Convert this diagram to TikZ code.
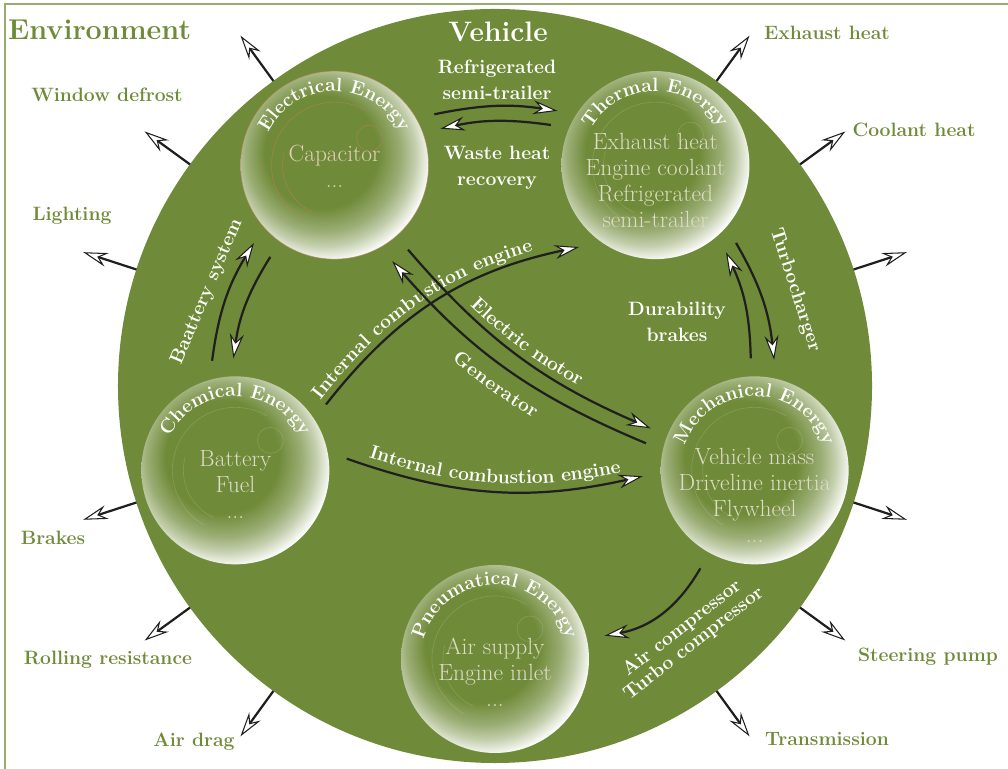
\documentclass[tikz,border=0pt]{standalone}
\usepackage{fontspec}
\usetikzlibrary{arrows.meta,calc,decorations.text}

\definecolor{vgreen}{RGB}{111,138,56}
\definecolor{framegreen}{RGB}{152,172,112}
\definecolor{innertext}{RGB}{222,220,200}
\definecolor{elecinner}{RGB}{226,208,186}
\definecolor{elecline}{RGB}{186,128,88}

% glassy bubble: green core, light rim, white crescent at lower right
\pgfdeclareradialshading{bubble}{\pgfpoint{-5bp}{5bp}}{%
  color(0bp)=(vgreen); color(15bp)=(vgreen); color(20.5bp)=(vgreen!70!white);
  color(24bp)=(vgreen!42!white); color(28bp)=(white); color(50bp)=(white)}

\newcommand\titlefont{\bfseries\fontsize{16.5}{18}\selectfont}
\newcommand\labelfont{\bfseries\fontsize{16.5}{22}\selectfont}
\newcommand\innerfont{\fontsize{20}{22}\selectfont}

\tikzset{
  flow/.style={line width=1.9pt, color=black!88,
    -{Stealth[length=21pt,width=12pt,inset=7pt,fill=white,line width=0.9pt]}},
  bubblenode/.style={circle, minimum size=5.64cm, inner sep=0pt, outer sep=0.54cm},
  glabel/.style={text=vgreen, font=\labelfont, inner sep=0pt},
  wlabel/.style={text=white, font=\labelfont, align=center, inner sep=0pt},
  innerlabel/.style={text=innertext, font=\innerfont, align=center, inner sep=0pt},
  gloss/.style={white, opacity=0.14, line width=0.6pt},
  elecgloss/.style={elecline, opacity=0.7, line width=0.5pt},
  flowtext/.style={postaction={decorate, decoration={text along path,
    text color=white, #1}}},
}

\begin{document}
\begin{tikzpicture}[x=0.03cm, y=0.03cm]
\useasboundingbox (0,0) rectangle (1008,769);

% environment frame
\draw[framegreen, line width=1.4pt] (5,-5) -- (5,765) -- (1015,765);
\node[glabel, font=\bfseries\fontsize{24.5}{28}\selectfont, anchor=base west] (env) at (8,729) {Environment};

% vehicle disc
\node[circle, fill=vgreen, minimum size=22.62cm, inner sep=0pt, outer sep=0pt] (veh) at (495,383) {};
\node[text=white, font=\bfseries\fontsize{24}{28}\selectfont, anchor=base, inner sep=0pt] (vehlabel) at (498,727) {Vehicle};

% energy storages on a pentagon
\foreach \nm/\ang in {elec/126, therm/54, chem/198, mech/342, pneu/270} {
  \node[bubblenode] (\nm) at ($(veh.center)+(\ang:273)$) {};
  \shade[shading=bubble] (\nm.center) circle[radius=94];
}
\foreach \nm in {therm, chem, mech, pneu} {
  \draw[gloss] ($(\nm.center)+(35,30)$) circle[radius=13];
  \draw[gloss] ($(\nm.center)+(60:63)$) arc[start angle=60, end angle=240, radius=63];
  \draw[gloss] ($(\nm.center)+(165:52)$) arc[start angle=165, end angle=245, radius=52];
}
\draw[elecgloss] (elec.center) circle[radius=94];
\draw[elecgloss] ($(elec.center)+(35,27)$) circle[radius=13];
\draw[elecgloss] ($(elec.center)+(60:63)$) arc[start angle=60, end angle=240, radius=63];
\draw[elecgloss] ($(elec.center)+(165:52)$) arc[start angle=165, end angle=245, radius=52];

% bubble titles
\path[decorate, decoration={text along path, text align=center, text color=white,
  text={|\titlefont|Electrical Energy}}] ($(elec.center)+(178:74)$) arc[start angle=178, end angle=2, radius=74];
\path[decorate, decoration={text along path, text align=center, text color=white,
  text={|\titlefont|Thermal Energy}}] ($(therm.center)+(178:74)$) arc[start angle=178, end angle=2, radius=74];
\path[decorate, decoration={text along path, text align=center, text color=white,
  text={|\titlefont|Chemical Energy}}] ($(chem.center)+(178:74)$) arc[start angle=178, end angle=2, radius=74];
\path[decorate, decoration={text along path, text align=center, text color=white,
  text={|\titlefont|Mechanical Energy}}] ($(mech.center)+(178:74)$) arc[start angle=178, end angle=2, radius=74];
\path[decorate, decoration={text along path, text align=center, text color=white,
  text={|\titlefont|Pneumatical Energy}}] ($(pneu.center)+(178:74)$) arc[start angle=178, end angle=2, radius=74];

% bubble contents
\node[innerlabel, text=elecinner] (electxt) at ($(elec.center)+(0,-1)$) {Capacitor\\...};
\node[innerlabel] (thermtxt) at ($(therm.center)+(0,-28)$) {Exhaust heat\\Engine coolant\\Refrigerated\\semi-trailer\\...};
\node[innerlabel] (chemtxt) at ($(chem.center)+(0,-14)$) {Battery\\Fuel\\...};
\node[innerlabel] (mechtxt) at ($(mech.center)+(0,-25)$) {Vehicle mass\\Driveline inertia\\Flywheel\\...};
\node[innerlabel] (pneutxt) at ($(pneu.center)+(0,-13)$) {Air supply\\Engine inlet\\...};

% energy flows inside the vehicle
\draw[flow] (elec.27) to[bend left=10] (therm.151);
\draw[flow] (therm.159) to[bend right=10] (elec.19);
\draw[flow] (chem.102) to[bend left=12] (elec.224);
\draw[flow] (elec.235) to[bend right=12] (chem.91);
\draw[flow] (mech.92) to[bend right=12] (therm.309);
\draw[flow] (therm.316) to[bend left=12] (mech.80);
\draw[flow, flowtext={text align=left, raise=6pt, text={|\labelfont|Internal combustion engine}}]
  (chem.36) to[bend left=20] (therm.227);
\draw[flow, flowtext={text align=center, raise=7pt, text={|\labelfont|Internal combustion engine}}]
  (chem.6) to[bend right=16] (mech.183);
\draw[flow, flowtext={text align=center, raise=6pt, text={|\labelfont|Electric motor}}]
  (elec.311) to[bend right=13] (mech.158);
\draw[flow, flowtext={text align=center, reverse path, raise=-23pt, text={|\labelfont|Generator}}]
  (mech.166) to[bend left=13] (elec.301);
\draw[flow] (mech.241) to[bend left=25] (pneu.12);

% flow labels
\node[wlabel] (refr) at (497,689) {Refrigerated\\semi-trailer};
\node[wlabel] (waste) at (497,601) {Waste heat\\recovery};
\node[wlabel] (dura) at (677,447) {Durability\\brakes};
\node[wlabel, rotate=67] (batt) at (207,477) {Baattery system};
\node[wlabel, rotate=-72] (turbo) at (795,479) {Turbocharger};
\node[wlabel, rotate=38, font=\bfseries\fontsize{16.5}{16.5}\selectfont] (airc) at (688,133) {Air compressor\\Turbo compressor};

% losses to the environment
\foreach \a in {18,36,54,126,144,162,198,216,234,306,324,342} {
  \coordinate (out\a) at ($(veh.center)+(\a:433)$);
  \draw[flow] (veh.\a) -- (out\a);
}
\node[glabel] (wdef) at (107,674) {Window defrost};
\node[glabel] (light) at (72,553) {Lighting};
\node[glabel] (brak) at (53,231) {Brakes};
\node[glabel] (roll) at (108,109) {Rolling resistance};
\node[glabel] (drag) at (194,27) {Air drag};
\node[glabel] (trans) at (827,30) {Transmission};
\node[glabel] (steer) at (928,112) {Steering pump};
\node[glabel] (cool) at (914,639) {Coolant heat};
\node[glabel] (exh) at (827,736) {Exhaust heat};
\end{tikzpicture}
\end{document}
